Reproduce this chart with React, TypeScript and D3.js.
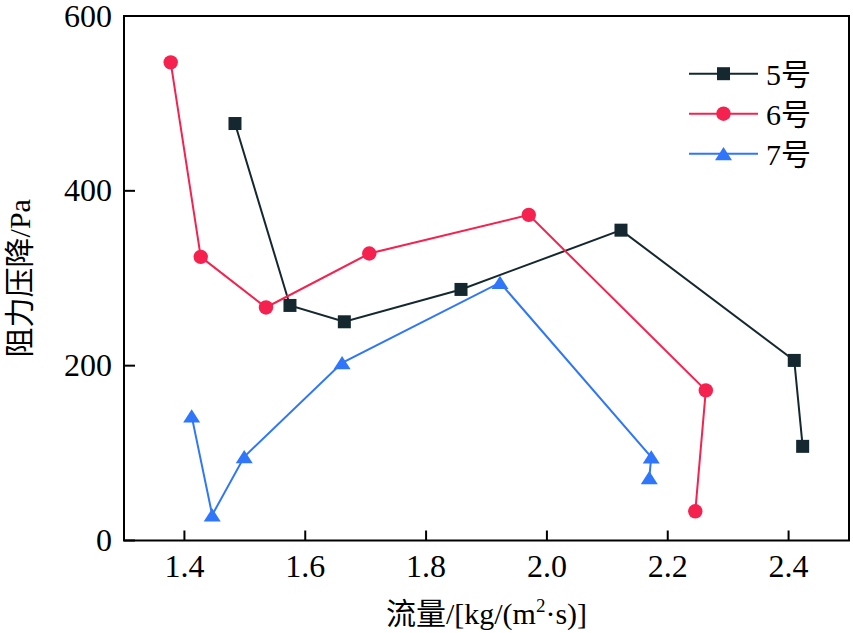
import React from "react";
import * as d3 from "d3";

const xTicks = [1.4, 1.6, 1.8, 2.0, 2.2, 2.4];
const yTicks = [0, 200, 400, 600];

const s5x = [1.4837, 1.5747, 1.6647, 1.8578, 2.1226, 2.4094, 2.4233];
const s5y = [477, 268.9, 250.2, 287.2, 355, 206, 107.7];

const s6x = [1.3773, 1.427, 1.535, 1.706, 1.970, 2.263, 2.2456];
const s6y = [547, 324.5, 266.6, 328.3, 372.5, 171.7, 33.4];

const s7x = [1.412, 1.446, 1.499, 1.661, 1.9223, 2.1727, 2.1694];
const s7y = [142.3, 29.2, 95.8, 203.3, 295, 95.5, 71.8];

const seriesNames = ["5号", "6号", "7号"];
const seriesColors = ["#152830", "#f5214f", "#2f76fb"];

const W = 853;
const H = 633;
const M = { left: 124, right: 849, top: 16, bottom: 540.5 };

export default function App() {
  const x = d3.scaleLinear().domain([1.3, 2.5]).range([M.left, M.right]);
  const y = d3.scaleLinear().domain([0, 600]).range([M.bottom, M.top]);
  const line = d3
    .line<[number, number]>()
    .x((d) => x(d[0]))
    .y((d) => y(d[1]));

  const series = [
    { xs: s5x, ys: s5y },
    { xs: s6x, ys: s6y },
    { xs: s7x, ys: s7y },
  ];

  const marker = (i: number, cx: number, cy: number, key: string) => {
    const c = seriesColors[i];
    if (i === 0)
      return <rect key={key} x={cx - 6.5} y={cy - 6.5} width={13} height={13} fill={c} />;
    if (i === 1) return <circle key={key} cx={cx} cy={cy} r={7.2} fill={c} />;
    return (
      <path
        key={key}
        d={`M${cx},${cy - 6.8}L${cx + 8.5},${cy + 6.5}L${cx - 8.5},${cy + 6.5}Z`}
        fill={c}
      />
    );
  };

  const serif = "'Liberation Serif', 'Times New Roman', 'Noto Sans CJK SC', serif";

  return (
    <svg
      width={W}
      height={H}
      style={{ position: "absolute", left: 0, top: 0, background: "#fff" }}
      fontFamily={serif}
    >
      {/* frame */}
      <rect
        x={M.left}
        y={M.top}
        width={M.right - M.left}
        height={M.bottom - M.top}
        fill="none"
        stroke="#000"
        strokeWidth={2}
      />
      {/* x ticks */}
      {xTicks.map((t) => (
        <g key={"xt" + t}>
          <line x1={x(t)} x2={x(t)} y1={M.bottom} y2={M.bottom - 10} stroke="#000" strokeWidth={2} />
          <text x={x(t)} y={M.bottom + 36} fontSize={32} textAnchor="middle">
            {t.toFixed(1)}
          </text>
        </g>
      ))}
      {/* y ticks */}
      {yTicks.map((t) => (
        <g key={"yt" + t}>
          <line x1={M.left} x2={M.left + 11} y1={y(t)} y2={y(t)} stroke="#000" strokeWidth={2} />
          <text x={M.left - 12} y={y(t)} dy="0.33em" fontSize={32} textAnchor="end">
            {t}
          </text>
        </g>
      ))}
      {/* axis titles */}
      <text x={(M.left + M.right) / 2} y={624} fontSize={30} textAnchor="middle">
        流量/[kg/(m
        <tspan fontSize={19} dy={-12}>2</tspan>
        <tspan dy={12}>·s)]</tspan>
      </text>
      <text
        transform={`translate(30, ${(M.top + M.bottom) / 2}) rotate(-90)`}
        fontSize={30}
        textAnchor="middle"
      >
        阻力压降/Pa
      </text>
      {/* series */}
      {series.map((s, i) => {
        const pts = s.xs.map((v, j) => [v, s.ys[j]] as [number, number]);
        return (
          <g key={"s" + i}>
            <path d={line(pts) || ""} fill="none" stroke={seriesColors[i]} strokeWidth={2} />
            {pts.map((p, j) => marker(i, x(p[0]), y(p[1]), `m${i}-${j}`))}
          </g>
        );
      })}
      {/* legend */}
      {seriesNames.map((n, i) => {
        const ly = 73.7 + i * 40;
        return (
          <g key={"lg" + i}>
            <line x1={689} x2={758} y1={ly} y2={ly} stroke={seriesColors[i]} strokeWidth={2} />
            {marker(i, 723.5, ly, "lm" + i)}
            <text x={766} y={ly} dy="0.36em" fontSize={30}>
              {n}
            </text>
          </g>
        );
      })}
    </svg>
  );
}
